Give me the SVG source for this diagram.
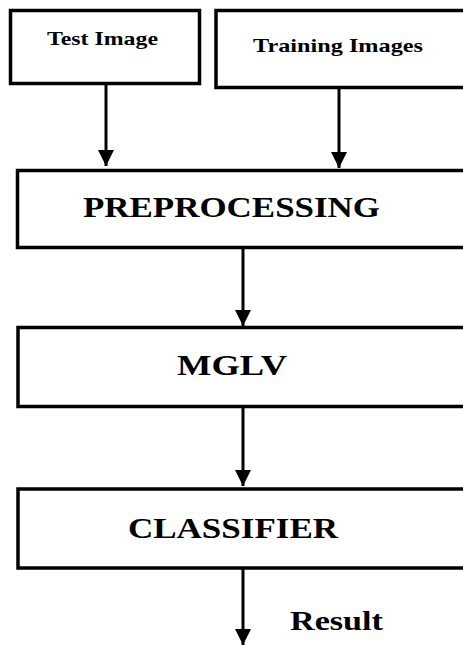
<svg xmlns="http://www.w3.org/2000/svg" width="463" height="646" viewBox="0 0 463 646">
<style>
.box{fill:#fff;stroke:#000;stroke-width:3.5}
.t{font-family:"Liberation Serif","Times New Roman",serif;font-weight:bold;fill:#000}
.c{stroke:#000;stroke-width:3;fill:none}
</style>
<defs>
<marker id="ah" markerUnits="userSpaceOnUse" markerWidth="16" markerHeight="16" refX="16" refY="8" orient="auto">
<path d="M0,0 L16,8 L0,16 Z" fill="#000"/>
</marker>
</defs>
<rect width="463" height="646" fill="#fff"/>
<g id="test-image">
<rect class="box" x="10.5" y="10.5" width="189" height="73"/>
<text class="t" x="47" y="45" font-size="19" textLength="111" lengthAdjust="spacingAndGlyphs">Test Image</text>
</g>
<g id="training-images">
<rect class="box" x="216" y="10.5" width="260" height="77"/>
<text class="t" x="253" y="52" font-size="19" textLength="170" lengthAdjust="spacingAndGlyphs">Training Images</text>
</g>
<g id="preprocessing">
<rect class="box" x="17.5" y="170.5" width="460" height="77"/>
<text class="t" x="83" y="217" font-size="29" textLength="297" lengthAdjust="spacingAndGlyphs">PREPROCESSING</text>
</g>
<g id="mglv">
<rect class="box" x="18" y="327.5" width="460" height="79"/>
<text class="t" x="177" y="375" font-size="29" textLength="110" lengthAdjust="spacingAndGlyphs">MGLV</text>
</g>
<g id="classifier">
<rect class="box" x="18" y="489" width="460" height="79"/>
<text class="t" x="128" y="538" font-size="29" textLength="210" lengthAdjust="spacingAndGlyphs">CLASSIFIER</text>
</g>
<g id="result">
<text class="t" x="290" y="630" font-size="28" textLength="93" lengthAdjust="spacingAndGlyphs">Result</text>
</g>
<g id="connectors">
<line class="c" x1="106" y1="85" x2="106" y2="166" marker-end="url(#ah)"/>
<line class="c" x1="339" y1="89" x2="339" y2="168" marker-end="url(#ah)"/>
<line class="c" x1="243" y1="249" x2="243" y2="326" marker-end="url(#ah)"/>
<line class="c" x1="243" y1="408" x2="243" y2="486" marker-end="url(#ah)"/>
<line class="c" x1="243" y1="569" x2="243" y2="645" marker-end="url(#ah)"/>
</g>
</svg>
